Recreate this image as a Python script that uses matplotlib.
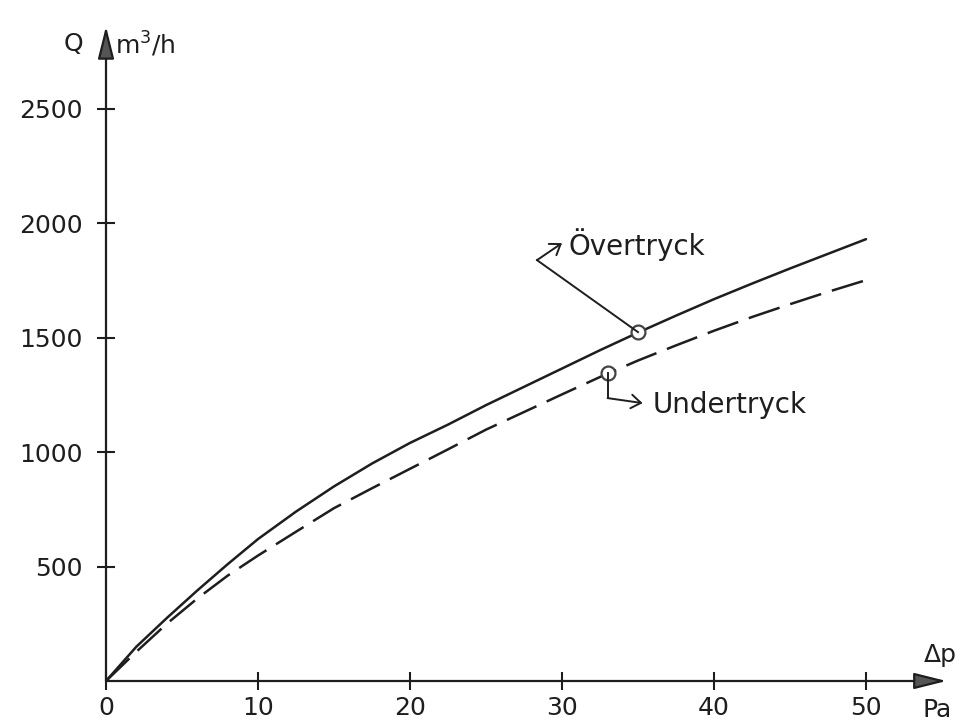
import matplotlib
matplotlib.use("Agg")
import matplotlib.pyplot as plt

# ---- data ----
dp = [0, 2, 4, 6, 8, 10, 12.5, 15, 17.5, 20, 22.5, 25, 27.5, 30, 32.5, 35,
      37.5, 40, 42.5, 45, 47.5, 50]
q_over = [0, 150, 275, 395, 510, 620, 740, 850, 950, 1040, 1120, 1205, 1285,
          1365, 1445, 1522, 1596, 1668, 1736, 1802, 1866, 1930]
q_under = [0, 128, 250, 360, 460, 548, 652, 755, 842, 927, 1012, 1098, 1175,
           1252, 1328, 1400, 1466, 1530, 1590, 1646, 1700, 1751]
marker_dp = [35, 33]
marker_q = [1524, 1345]
labels = ["Övertryck", "Undertryck"]
x_ticks = [0, 10, 20, 30, 40, 50]
y_ticks = [500, 1000, 1500, 2000, 2500]

INK = "#1e1e1e"
W, H = 963, 724
fig = plt.figure(figsize=(W / 100, H / 100), dpi=100)
ax = fig.add_axes([106 / W, 43 / H, 836 / W, 657 / H])
ax.set_xlim(0, 55)
ax.set_ylim(0, 2870)
for s in ax.spines.values():
    s.set_visible(False)

ax.plot(dp, q_over, color=INK, lw=1.8, solid_capstyle="round", solid_joinstyle="round")
ax.plot(dp, q_under, color=INK, lw=1.8, linestyle=(0, (13, 4.5)), dash_joinstyle="round")
ax.plot(marker_dp, marker_q, "o", ms=10, mfc="white", mec="#444444", mew=1.6, ls="none", zorder=5)

ax.set_xticks(x_ticks)
ax.set_xticklabels([str(v) for v in x_ticks])
ax.set_yticks(y_ticks)
ax.set_yticklabels([str(v) for v in y_ticks])
ax.tick_params(axis="both", direction="inout", length=13, width=1.5, color=INK,
               labelsize=18, labelcolor=INK)
ax.tick_params(axis="x", pad=4)
ax.tick_params(axis="y", pad=10)

# axis arrows
ap = dict(arrowstyle="-|>,head_length=1.0,head_width=0.25", color=INK, lw=1.6,
          mutation_scale=20, shrinkA=0, shrinkB=0, fc="#555555", ec=INK)
ax.annotate("", xy=(55.3, 0), xytext=(0, 0), xycoords="data", arrowprops=ap, annotation_clip=False)
ax.annotate("", xy=(0, 2860), xytext=(0, 0), xycoords="data", arrowprops=ap, annotation_clip=False)

def fp(px, py):
    return px / W, 1 - py / H

fig.text(*fp(73, 44), "Q", ha="center", va="center", fontsize=18, color=INK)
fig.text(*fp(115, 44), "m$^3$/h", ha="left", va="center", fontsize=18, color=INK)
fig.text(*fp(940, 655), "Δp", ha="center", va="center", fontsize=18, color=INK)
fig.text(*fp(937, 710), "Pa", ha="center", va="center", fontsize=18, color=INK)

# annotation leaders (offsets in pixels from the marker)
fig.canvas.draw()
leaders = [
    [(-101, 72), (-76, 89), (-70, 88)],
    [(0, -25), (35, -30), (45, -32)],
]
for (mx, my), lab, lead in zip(zip(marker_dp, marker_q), labels, leaders):
    cx, cy = ax.transData.transform((mx, my))
    (k1x, k1y), (tx, ty), (lx, ly) = lead
    fig.add_artist(plt.Line2D([(cx) / W, (cx + k1x) / W], [cy / H, (cy + k1y) / H],
                              transform=fig.transFigure, color=INK, lw=1.4))
    ax.annotate("", xy=(cx + tx, cy + ty), xytext=(cx + k1x, cy + k1y),
                xycoords="figure pixels", textcoords="figure pixels",
                arrowprops=dict(arrowstyle="->,head_length=0.5,head_width=0.35", color=INK,
                                lw=1.4, shrinkA=0, shrinkB=0, mutation_scale=14))
    fig.text((cx + lx) / W, (cy + ly) / H, lab, ha="left", va="center", fontsize=20, color=INK)

fig.savefig("out.png", dpi=100, facecolor="white")
